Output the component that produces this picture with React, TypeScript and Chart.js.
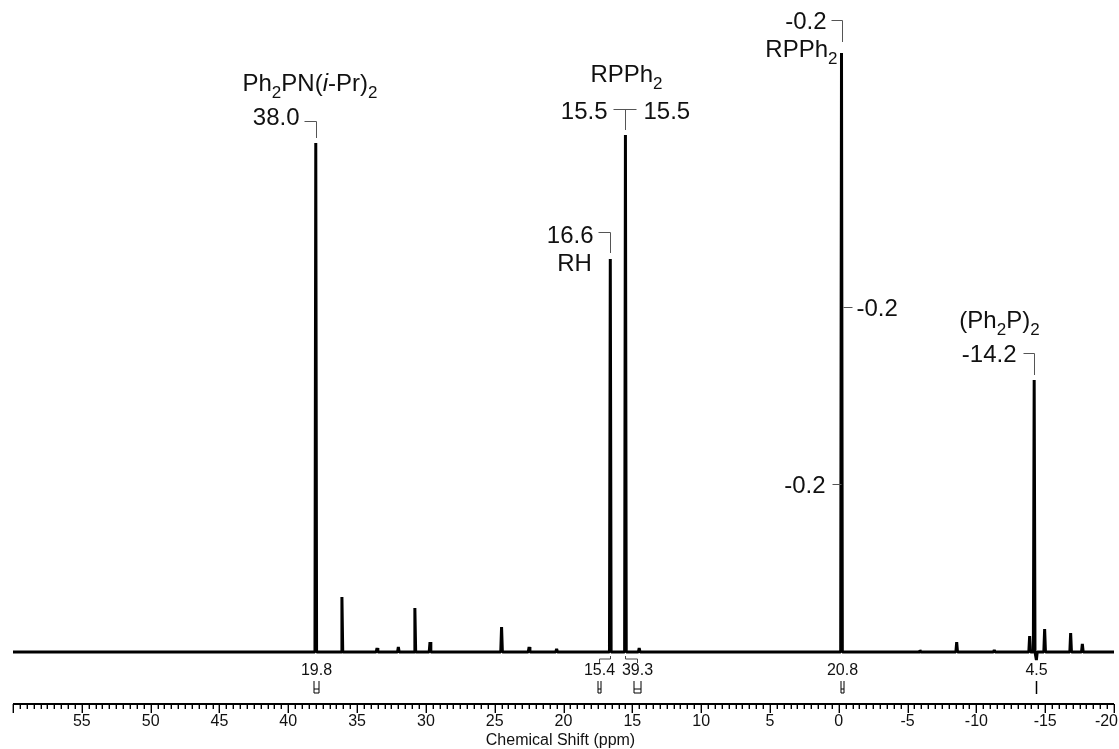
import React, { useEffect, useRef } from "react";
import { Chart, registerables } from "chart.js";

Chart.register(...registerables);

// ---- data ----
const axisMin = -20;
const axisMax = 60;
const tickLabels = [55, 50, 45, 40, 35, 30, 25, 20, 15, 10, 5, 0, -5, -10, -15, -20];

// peak positions (ppm) and heights (arbitrary intensity units, baseline = 0)
const peakPpm = [38.0, 36.1, 33.55, 32.0, 30.8, 29.7, 24.5, 22.5, 20.5, 16.6, 15.5, 14.5, -0.2, -5.9, -8.57, -11.3, -13.87, -14.2, -14.36, -14.96, -16.85, -17.7];
const peakHeight = [509, 55, 4, 5, 44, 10, 25, 5, 3, 393, 517, 4, 599, 2, 10, 2, 16, 272, -8, 23, 19, 8];

// integrals
const integralText = ["19.8", "15.4", "39.3", "20.8", "4.5"];
const integralPpm = [38.0, 17.42, 14.66, -0.24, -14.33];
const integralPeakPpm = [38.0, 16.6, 15.5, -0.2, -14.2];

const FONT = '"Liberation Sans", Arial, Helvetica, sans-serif';

type Seg = { t: string; sub?: boolean; it?: boolean };

function richWidth(ctx: CanvasRenderingContext2D, segs: Seg[], size: number) {
  let w = 0;
  for (const s of segs) {
    const fs = s.sub ? Math.round(size * 0.7) : size;
    ctx.font = `${s.it ? "italic " : ""}${fs}px ${FONT}`;
    w += ctx.measureText(s.t).width;
  }
  return w;
}

function drawRich(ctx: CanvasRenderingContext2D, segs: Seg[], x: number, baseline: number, size: number, align: "left" | "center" | "right") {
  const w = richWidth(ctx, segs, size);
  let cx = align === "left" ? x : align === "center" ? x - w / 2 : x - w;
  ctx.textAlign = "left";
  ctx.textBaseline = "alphabetic";
  for (const s of segs) {
    const fs = s.sub ? Math.round(size * 0.7) : size;
    ctx.font = `${s.it ? "italic " : ""}${fs}px ${FONT}`;
    ctx.fillText(s.t, cx, baseline + (s.sub ? size * 0.28 : 0));
    cx += ctx.measureText(s.t).width;
  }
}

function line(ctx: CanvasRenderingContext2D, pts: number[][]) {
  ctx.beginPath();
  ctx.moveTo(pts[0][0], pts[0][1]);
  for (let i = 1; i < pts.length; i++) ctx.lineTo(pts[i][0], pts[i][1]);
  ctx.stroke();
}

const annotPlugin = {
  id: "nmrAnnot",
  afterDraw(chart: any) {
    const ctx: CanvasRenderingContext2D = chart.ctx;
    const xs = chart.scales.x;
    const ys = chart.scales.y;
    const px = (v: number) => xs.getPixelForValue(v);
    const py = (v: number) => ys.getPixelForValue(v);
    const area = chart.chartArea;
    const hOf = (p: number) => peakHeight[peakPpm.indexOf(p)];

    ctx.save();
    // ---- axis ----
    const axisY = area.bottom + 1;
    ctx.strokeStyle = "#000";
    ctx.lineWidth = 2;
    line(ctx, [[area.left, axisY], [area.right, axisY]]);
    ctx.lineWidth = 1.4;
    for (let k = axisMin * 2; k <= axisMax * 2; k++) {
      const v = k / 2;
      const x = Math.round(px(v)) + 0.3;
      const major = k % 10 === 0;
      line(ctx, [[x, axisY], [x, axisY + (major ? 9 : 5)]]);
    }
    ctx.fillStyle = "#111";
    ctx.font = `16px ${FONT}`;
    ctx.textBaseline = "middle";
    for (const t of tickLabels) {
      const w = ctx.measureText(String(t)).width;
      let x = px(t);
      if (x + w / 2 > chart.width - 1) x = chart.width - 1 - w / 2;
      ctx.textAlign = "center";
      ctx.fillText(String(t), x, 722);
    }
    ctx.font = `16px ${FONT}`;
    ctx.textAlign = "center";
    ctx.fillText("Chemical Shift (ppm)", (area.left + area.right) / 2 - 3, 741);

    // ---- integrals ----
    const halfW = [2.5, 1.5, 3.5, 1.5, 0];
    ctx.font = `16px ${FONT}`;
    ctx.textBaseline = "middle";
    ctx.textAlign = "center";
    for (let i = 0; i < integralText.length; i++) {
      const x = Math.round(px(integralPpm[i])) + 0.5;
      ctx.fillStyle = "#111";
      ctx.fillText(integralText[i], x, 671);
      ctx.strokeStyle = "#000";
      ctx.lineWidth = 1;
      const hw = halfW[i];
      if (hw === 0) {
        ctx.lineWidth = 1.5;
        line(ctx, [[x, 681], [x, 694]]);
      } else {
        line(ctx, [[x - hw, 681], [x - hw, 693], [x + hw, 693], [x + hw, 681]]);
        line(ctx, [[x - hw, 689], [x + hw, 689]]);
      }
      const pk = Math.round(px(integralPeakPpm[i])) + 0.5;
      if (Math.abs(pk - x) > 4) {
        ctx.strokeStyle = "#444";
        ctx.lineWidth = 1;
        line(ctx, [[x, 663], [x, 659], [pk, 659], [pk, 656]]);
      }
    }

    // ---- peak labels ----
    const S = 24;
    ctx.fillStyle = "#111";
    const gray = "#555";
    const bracket = (pts: number[][]) => {
      ctx.strokeStyle = gray;
      ctx.lineWidth = 1;
      line(ctx, pts);
    };

    // 38.0
    const x38 = Math.round(px(38.0)) + 0.5;
    const t38 = py(hOf(38.0));
    drawRich(ctx, [{ t: "Ph" }, { t: "2", sub: true }, { t: "PN(" }, { t: "i", it: true }, { t: "-Pr)" }, { t: "2", sub: true }], x38 - 74, 91, S, "left");
    drawRich(ctx, [{ t: "38.0" }], x38 - 17, 125, S, "right");
    bracket([[x38 - 12, 121.5], [x38, 121.5], [x38, t38 - 5]]);

    // 15.5
    const x155 = Math.round(px(15.5)) + 0.5;
    const t155 = py(hOf(15.5));
    drawRich(ctx, [{ t: "RPPh" }, { t: "2", sub: true }], x155 + 1, 82, S, "center");
    drawRich(ctx, [{ t: "15.5" }], x155 - 18, 119, S, "right");
    drawRich(ctx, [{ t: "15.5" }], x155 + 18, 119, S, "left");
    bracket([[x155 - 12, 109.5], [x155 + 11, 109.5]]);
    bracket([[x155, 109.5], [x155, t155 - 5]]);

    // 16.6
    const x166 = Math.round(px(16.6)) + 0.5;
    const t166 = py(hOf(16.6));
    drawRich(ctx, [{ t: "16.6" }], x166 - 17, 243, S, "right");
    drawRich(ctx, [{ t: "RH" }], x166 - 36, 271, S, "center");
    bracket([[x166 - 12, 232.5], [x166, 232.5], [x166, t166 - 6]]);

    // -0.2
    const x02 = Math.round(px(-0.2)) + 0.5;
    const t02 = py(hOf(-0.2));
    drawRich(ctx, [{ t: "-0.2" }], x02 - 16, 29, S, "right");
    drawRich(ctx, [{ t: "RPPh" }, { t: "2", sub: true }], x02 - 5, 57, S, "right");
    bracket([[x02 - 11, 20.5], [x02, 20.5], [x02, t02 - 11]]);
    drawRich(ctx, [{ t: "-0.2" }], x02 + 14, 316, S, "left");
    bracket([[x02 + 1, 307.5], [x02 + 10, 307.5]]);
    drawRich(ctx, [{ t: "-0.2" }], x02 - 17, 493, S, "right");
    bracket([[x02 - 10, 484.5], [x02 - 1, 484.5]]);

    // -14.2
    const x142 = Math.round(px(-14.2)) + 0.5;
    const t142 = py(hOf(-14.2));
    drawRich(ctx, [{ t: "(Ph" }, { t: "2", sub: true }, { t: "P)" }, { t: "2", sub: true }], x142 - 35, 328, S, "center");
    drawRich(ctx, [{ t: "-14.2" }], x142 - 18, 362, S, "right");
    bracket([[x142 - 11, 353.5], [x142, 353.5], [x142, t142 - 5]]);

    ctx.restore();
  },
};

function buildSpectrum() {
  const pts: { x: number; y: number }[] = [];
  const w = 0.06;
  pts.push({ x: axisMax, y: 0 });
  const order = peakPpm.map((p, i) => i).sort((a, b) => peakPpm[b] - peakPpm[a]);
  for (const i of order) {
    pts.push({ x: peakPpm[i] + w, y: 0 });
    pts.push({ x: peakPpm[i], y: peakHeight[i] });
    pts.push({ x: peakPpm[i] - w, y: 0 });
  }
  pts.push({ x: axisMin, y: 0 });
  return pts;
}

export default function App() {
  const ref = useRef<HTMLCanvasElement | null>(null);
  useEffect(() => {
    if (!ref.current) return;
    const chart = new Chart(ref.current, {
      type: "line",
      data: {
        datasets: [
          {
            data: buildSpectrum(),
            borderColor: "#000",
            borderWidth: 3,
            pointRadius: 0,
            tension: 0,
            borderJoinStyle: "bevel",
            fill: false,
          } as any,
        ],
      },
      options: {
        animation: false,
        responsive: true,
        maintainAspectRatio: false,
        events: [],
        layout: { padding: { left: 13, right: 5, top: 0, bottom: 46 } },
        plugins: { legend: { display: false }, tooltip: { enabled: false } },
        scales: {
          x: { type: "linear", min: axisMin, max: axisMax, reverse: true, display: false },
          y: { type: "linear", min: -51, max: 652, display: false },
        },
      } as any,
      plugins: [annotPlugin],
    });
    return () => chart.destroy();
  }, []);
  return (
    <div style={{ position: "fixed", left: 0, top: 0, width: 1119, height: 749, background: "#fff" }}>
      <canvas ref={ref} />
    </div>
  );
}
